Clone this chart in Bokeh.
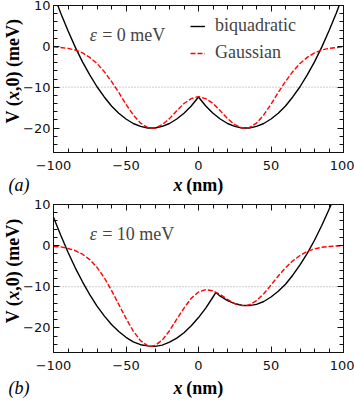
import math
from bokeh.plotting import figure
from bokeh.models import (Range1d, LinearAxis, SingleIntervalTicker, Label,
                          Legend, LegendItem)
from bokeh.layouts import column
from bokeh.embed import file_html
from bokeh.resources import INLINE

# ---------------- data ----------------
# panel (a): epsilon = 0 meV  (the solid curve leaves the box at the top edge)
xa_biquad = [-97, -95, -90, -85, -80, -75, -70, -65, -60, -55, -50, -45, -40, -35, -32.5, -30,
             -25, -20, -15, -10, -5, 0, 5, 10, 15, 20, 25, 30, 32.5, 35, 40, 45, 50, 55, 60,
             65, 70, 75, 80, 85, 90, 95, 97]
va_biquad = [10.0, 8.1, 3.8, -0.2, -3.8, -7.0, -9.9, -12.4, -14.6, -16.4, -17.8, -18.9, -19.6,
             -20.0, -20.0, -20.0, -19.6, -18.9, -17.8, -16.4, -14.6, -12.4, -14.6, -16.4, -17.8,
             -18.9, -19.6, -20.0, -20.0, -20.0, -19.6, -18.9, -17.8, -16.4, -14.6, -12.4, -9.9,
             -7.0, -3.8, -0.2, 3.8, 8.1, 10.0]
xa_gauss = [-100, -95, -90, -85, -80, -75, -70, -65, -60, -55, -50, -45, -40, -35, -32.5, -30,
            -25, -20, -15, -10, -5, 0, 5, 10, 15, 20, 25, 30, 32.5, 35, 40, 45, 50, 55, 60,
            65, 70, 75, 80, 85, 90, 95, 100]
va_gauss = [-0.1, -0.3, -0.5, -0.9, -1.6, -2.7, -4.2, -6.2, -8.6, -11.3, -14.2, -16.8, -18.8,
            -19.9, -20.0, -20.0, -19.2, -17.7, -15.8, -14.0, -12.8, -12.3, -12.8, -14.0, -15.8,
            -17.7, -19.2, -20.0, -20.0, -19.9, -18.8, -16.8, -14.2, -11.3, -8.6, -6.2, -4.2,
            -2.7, -1.6, -0.9, -0.5, -0.3, -0.1]

# panel (b): epsilon = 10 meV
xb_biquad = [-100, -95, -90, -85, -80, -75, -70, -65, -60, -55, -50, -45, -40, -35, -32, -30,
             -25, -20, -15, -10, -5, 0, 5, 10, 12, 15, 20, 25, 30, 33, 35, 40, 45, 50, 55, 60,
             65, 70, 75, 80, 85, 90, 91.5]
vb_biquad = [6.9, 2.5, -1.6, -5.4, -8.8, -11.9, -14.7, -17.1, -19.2, -20.9, -22.3, -23.4, -24.1,
             -24.4, -24.5, -24.5, -24.2, -23.5, -22.5, -21.2, -19.5, -17.5, -15.2, -12.5, -11.4,
             -12.3, -13.4, -14.1, -14.5, -14.6, -14.6, -14.3, -13.6, -12.5, -11.1, -9.4, -7.2,
             -4.7, -1.9, 1.3, 4.9, 8.8, 10.0]
xb_gauss = [-100, -95, -90, -85, -80, -75, -70, -65, -60, -55, -50, -45, -40, -35, -33, -30,
            -25, -20, -15, -10, -5, 0, 5, 10, 15, 20, 25, 30, 32, 35, 40, 45, 50, 55, 60,
            65, 70, 75, 80, 85, 90, 95, 100]
vb_gauss = [-0.2, -0.3, -0.7, -1.2, -2.1, -3.4, -5.3, -7.8, -10.9, -14.3, -17.7, -20.8, -23.1,
            -24.4, -24.5, -24.3, -23.0, -20.7, -17.9, -15.2, -12.8, -11.3, -10.7, -11.0, -11.9,
            -13.1, -14.1, -14.6, -14.6, -14.4, -13.4, -11.7, -9.6, -7.4, -5.4, -3.7, -2.4,
            -1.4, -0.8, -0.4, -0.2, -0.1, 0.0]

x_limits = (-100, 100)
y_limits = (-26, 10)
x_tick_step = 50
y_tick_step = 10
ref_level = -10
series_names = ["biquadratic", "Gaussian"]
eps_values = ["0", "10"]
panel_tags = ["(a)", "(b)"]

SERIF = "Liberation Serif"
SANS = "DejaVu Sans"
INK = "#111111"

# pixel layout of each panel: canvas size and the data box inside it
W = 354
BOX_L, BOX_R = 53, 343


def style_axis(ax, show_labels, standoff):
    ax.axis_line_color = INK
    ax.axis_line_width = 1
    ax.major_tick_in = 6
    ax.major_tick_out = 0
    ax.minor_tick_in = 4
    ax.minor_tick_out = 0
    ax.major_tick_line_color = INK
    ax.minor_tick_line_color = INK
    ax.major_tick_line_width = 1
    ax.minor_tick_line_width = 1
    if show_labels:
        ax.major_label_text_font = SANS
        ax.major_label_text_font_size = "13px"
        ax.major_label_text_color = INK
        ax.major_label_standoff = standoff
    else:
        ax.major_label_text_font_size = "0px"
        ax.major_label_text_color = None
        ax.major_label_standoff = 0


def make_panel(xb, vb, xg, vg, eps, tag, H, box_t, box_b, tag_drop, with_legend):
    xppu = (BOX_R - BOX_L) / (x_limits[1] - x_limits[0])
    yppu = (box_b - box_t) / (y_limits[1] - y_limits[0])
    xr = Range1d(x_limits[0] - BOX_L / xppu, x_limits[1] + (W - BOX_R) / xppu)
    yr = Range1d(y_limits[0] - (H - box_b) / yppu, y_limits[1] + box_t / yppu)

    p = figure(width=W, height=H, x_range=xr, y_range=yr,
               output_backend="svg", toolbar_location=None,
               x_axis_location=None, y_axis_location=None,
               min_border_left=0, min_border_right=0,
               min_border_top=0, min_border_bottom=0)
    p.grid.visible = False
    p.outline_line_color = None
    p.background_fill_color = "white"
    p.border_fill_color = "white"

    def xt():
        return SingleIntervalTicker(interval=x_tick_step, num_minor_ticks=5)

    def yt():
        return SingleIntervalTicker(interval=y_tick_step, num_minor_ticks=5)

    bottom = LinearAxis(ticker=xt(), fixed_location=y_limits[0], bounds=x_limits)
    style_axis(bottom, True, 8)
    p.add_layout(bottom, "below")
    left = LinearAxis(ticker=yt(), fixed_location=x_limits[0], bounds=y_limits)
    style_axis(left, True, 3)
    p.add_layout(left, "left")
    top = LinearAxis(ticker=xt(), fixed_location=y_limits[1], bounds=x_limits)
    style_axis(top, False, 0)
    p.add_layout(top, "above")
    right = LinearAxis(ticker=yt(), fixed_location=x_limits[1], bounds=y_limits)
    style_axis(right, False, 0)
    p.add_layout(right, "right")

    # dotted reference level
    p.line(list(x_limits), [ref_level, ref_level], line_color="#9a9a9a",
           line_dash="1 2", line_width=1)

    rb = p.line(xb, vb, line_color="black", line_width=1.4)
    rg = p.line(xg, vg, line_color="red", line_width=1.4, line_dash="5 2")

    if with_legend:
        leg = Legend(items=[LegendItem(label=series_names[0], renderers=[rb]),
                            LegendItem(label=series_names[1], renderers=[rg])],
                     location=(190, H - 63), label_text_font=SERIF,
                     label_text_font_size="18px", glyph_width=15, glyph_height=20,
                     label_height=20, spacing=6, padding=0, margin=0,
                     border_line_color=None, background_fill_alpha=0,
                     label_standoff=10)
        p.add_layout(leg)

    # epsilon annotation
    p.add_layout(Label(x=-75.0, y=2.8, text="\u03b5", text_font=SERIF,
                       text_font_style="italic", text_font_size="18px",
                       text_baseline="alphabetic"))
    p.add_layout(Label(x=-66.4, y=2.8, text="= " + eps + " meV", text_font=SERIF,
                       text_font_size="18px", text_baseline="alphabetic"))

    common = dict(text_font=SERIF, text_font_size="18px", text_color="black")
    # x axis label
    p.add_layout(Label(x=-17.2, y=y_limits[0], y_offset=-tag_drop, text="x",
                       text_font_style="bold italic", text_baseline="alphabetic", **common))
    p.add_layout(Label(x=-8.5, y=y_limits[0], y_offset=-tag_drop, text="(nm)",
                       text_font_style="bold", text_baseline="alphabetic", **common))
    # panel tag
    p.add_layout(Label(x=x_limits[0], x_offset=-45, y=y_limits[0], y_offset=-tag_drop,
                       text=tag, text_font_style="italic", text_baseline="alphabetic",
                       **common))
    # y axis label, rotated
    ang = math.pi / 2
    for txt, off, style in [("V (", 0, "bold"), ("x", 23.5, "bold italic"),
                            (",0) (meV)", 32.5, "bold")]:
        p.add_layout(Label(x=x_limits[0], x_offset=-40.5, y=-18.9, y_offset=off,
                           text=txt, angle=ang, text_font_style=style,
                           text_baseline="middle", text_align="left", **common))
    return p


pa = make_panel(xa_biquad, va_biquad, xa_gauss, va_gauss, eps_values[0], panel_tags[0],
                195, 5, 152, 32, True)
pb = make_panel(xb_biquad, vb_biquad, xb_gauss, vb_gauss, eps_values[1], panel_tags[1],
                206, 9, 157, 35, False)

layout = column(pa, pb, spacing=0)
open("out.html", "w").write(file_html(layout, INLINE))
